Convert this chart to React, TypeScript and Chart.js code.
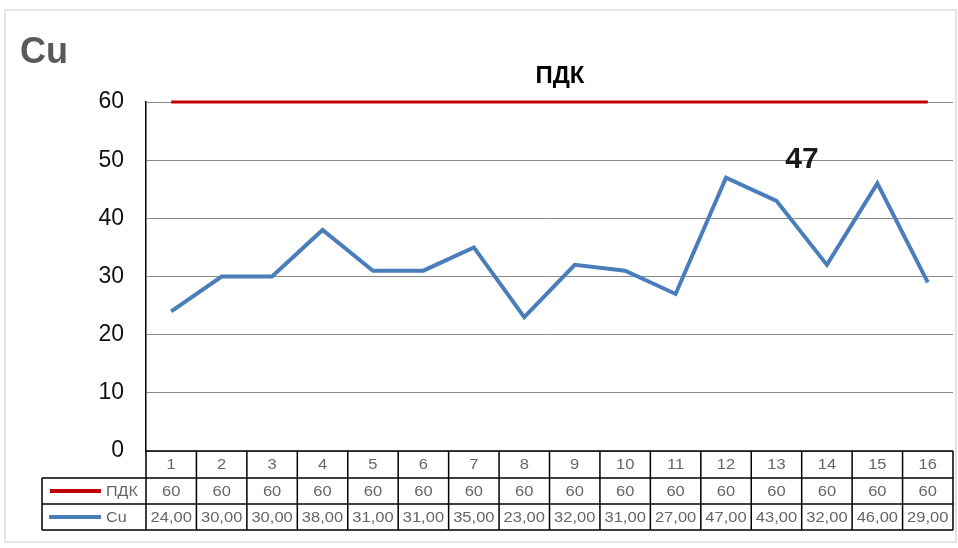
import React, { useEffect, useRef } from "react";
import { Chart, registerables } from "chart.js";

Chart.register(...registerables);

const categories = ["1", "2", "3", "4", "5", "6", "7", "8", "9", "10", "11", "12", "13", "14", "15", "16"];
const pdkValues = [60, 60, 60, 60, 60, 60, 60, 60, 60, 60, 60, 60, 60, 60, 60, 60];
const cuValues = [24, 30, 30, 38, 31, 31, 35, 23, 32, 31, 27, 47, 43, 32, 46, 29];
const yTicks = [0, 10, 20, 30, 40, 50, 60];
const chartTitle = "Cu";
const pdkLabel = "ПДК";
const peakLabel = "47";
const seriesNames = ["ПДК", "Cu"];

const RED = "#c00000";
const BLUE = "#4a7ebb";
const FONT = "'Liberation Sans', Arial, sans-serif";

const fmtCu = (v: number) => v.toFixed(2).replace(".", ",");

const tablePlugin = {
  id: "tablePlugin",
  beforeDraw(chart: any) {
    const ctx = chart.ctx;
    ctx.save();
    ctx.fillStyle = "#ffffff";
    ctx.fillRect(0, 0, chart.width, chart.height);
    ctx.strokeStyle = "#e4e4e4";
    ctx.lineWidth = 2;
    ctx.strokeRect(5, 10, 951, 532);
    ctx.restore();
  },
  afterDraw(chart: any) {
    const ctx = chart.ctx;
    const area = chart.chartArea;
    const xs = chart.scales.x;
    const n = categories.length;
    const colW = (area.right - area.left) / n;
    const top = area.bottom;
    const r1 = top + 27;
    const r2 = top + 53;
    const r3 = top + 79;
    const leftX = 42;

    ctx.save();
    ctx.fillStyle = "#595959";
    ctx.font = `bold 36px ${FONT}`;
    ctx.textAlign = "left";
    ctx.textBaseline = "alphabetic";
    ctx.fillText(chartTitle, 20, 63);

    ctx.fillStyle = "#000000";
    ctx.font = `bold 24px ${FONT}`;
    ctx.textAlign = "center";
    ctx.fillText(pdkLabel, 560, 83);

    ctx.fillStyle = "#1a1a1a";
    ctx.font = `bold 30px ${FONT}`;
    ctx.fillText(peakLabel, 802, 168);

    ctx.strokeStyle = "#000000";
    ctx.lineWidth = 1.5;
    ctx.beginPath();
    ctx.moveTo(area.left, top);
    ctx.lineTo(area.right, top);
    for (const y of [r1, r2, r3]) {
      ctx.moveTo(leftX, y);
      ctx.lineTo(area.right, y);
    }
    ctx.moveTo(leftX, r1);
    ctx.lineTo(leftX, r3);
    for (let i = 0; i <= n; i++) {
      const x = area.left + i * colW;
      ctx.moveTo(x, top);
      ctx.lineTo(x, r3);
    }
    ctx.stroke();

    ctx.fillStyle = "#666666";
    ctx.font = `14px ${FONT}`;
    ctx.textBaseline = "middle";
    ctx.textAlign = "center";
    const drawStretched = (t: string, x: number, y: number) => {
      ctx.save();
      ctx.translate(x, y);
      ctx.scale(1.18, 1);
      ctx.fillText(t, 0, 0);
      ctx.restore();
    };
    for (let i = 0; i < n; i++) {
      const cx = xs.getPixelForValue(i);
      drawStretched(categories[i], cx, (top + r1) / 2 + 1);
      drawStretched(String(pdkValues[i]), cx, (r1 + r2) / 2 + 1);
      drawStretched(fmtCu(cuValues[i]), cx, (r2 + r3) / 2 + 1);
    }

    ctx.lineCap = "butt";
    ctx.lineWidth = 4;
    ctx.strokeStyle = RED;
    ctx.beginPath();
    ctx.moveTo(50, (r1 + r2) / 2);
    ctx.lineTo(101, (r1 + r2) / 2);
    ctx.stroke();
    ctx.strokeStyle = BLUE;
    ctx.beginPath();
    ctx.moveTo(49, (r2 + r3) / 2);
    ctx.lineTo(101, (r2 + r3) / 2);
    ctx.stroke();
    ctx.textAlign = "left";
    ctx.save();
    ctx.translate(106, (r1 + r2) / 2 + 1);
    ctx.scale(1.15, 1);
    ctx.fillText(seriesNames[0], 0, 0);
    ctx.restore();
    ctx.save();
    ctx.translate(106, (r2 + r3) / 2 + 1);
    ctx.scale(1.15, 1);
    ctx.fillText(seriesNames[1], 0, 0);
    ctx.restore();
    ctx.restore();
  },
};

export default function App() {
  const ref = useRef<HTMLCanvasElement | null>(null);
  useEffect(() => {
    if (!ref.current) return;
    const chart = new Chart(ref.current, {
      type: "line",
      data: {
        labels: categories,
        datasets: [
          {
            label: seriesNames[0],
            data: pdkValues,
            borderColor: RED,
            borderWidth: 3,
            pointRadius: 0,
            tension: 0,
            clip: false as any,
          },
          {
            label: seriesNames[1],
            data: cuValues,
            borderColor: BLUE,
            borderWidth: 4,
            pointRadius: 0,
            tension: 0,
            borderJoinStyle: "miter",
            clip: false as any,
          },
        ],
      },
      options: {
        responsive: false,
        animation: false,
        layout: { padding: { top: 102, right: 5, left: 0, bottom: 0 } },
        plugins: {
          legend: { display: false },
          tooltip: { enabled: false },
          title: { display: false },
        },
        scales: {
          x: {
            type: "category",
            offset: true,
            grid: { display: false },
            ticks: { display: false },
            border: { display: false },
            afterFit: (s: any) => {
              s.height = 97;
            },
          },
          y: {
            min: 0,
            max: 60,
            afterBuildTicks: (s: any) => {
              s.ticks = yTicks.map((v) => ({ value: v }));
            },
            ticks: {
              font: { family: FONT, size: 23 },
              color: "#111111",
              padding: 22,
            },
            grid: { color: "#8a8a8a", lineWidth: 1, drawTicks: false },
            border: { color: "#000000", width: 1.5 },
            afterFit: (s: any) => {
              s.width = 146;
            },
          },
        },
      },
      plugins: [tablePlugin],
    });
    return () => chart.destroy();
  }, []);
  return (
    <div style={{ position: "fixed", left: 0, top: 0, width: 958, height: 548, background: "#fff" }}>
      <canvas ref={ref} width={958} height={548} />
    </div>
  );
}
